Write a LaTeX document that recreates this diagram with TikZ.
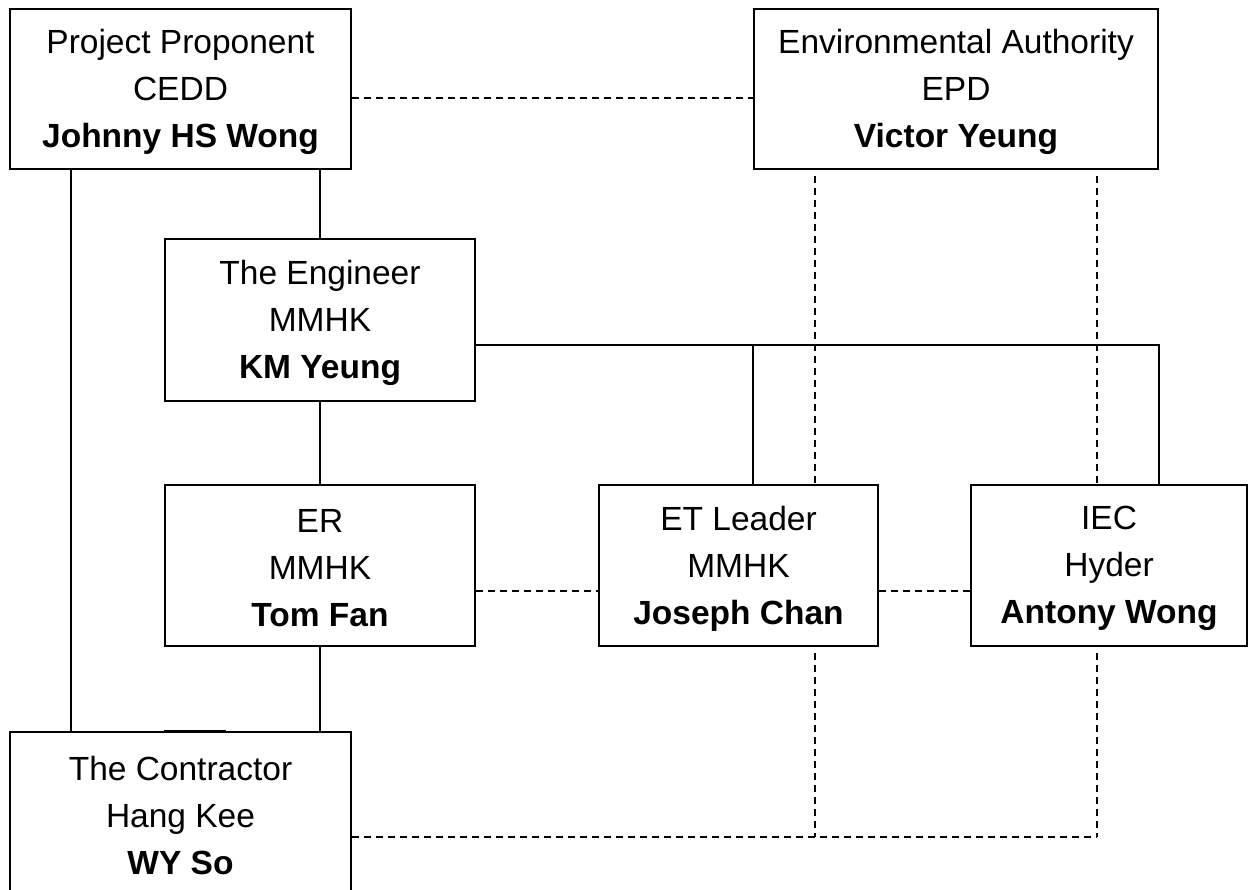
\documentclass[tikz,border=0pt]{standalone}
\usepackage{fontspec}
\setmainfont{Liberation Sans}
\usetikzlibrary{calc}
\tikzset{
  box/.style={draw=black, line width=1.6pt, fill=white, rectangle, inner sep=0pt},
  txt/.style={align=center, inner sep=0pt, font=\fontsize{33.5}{47}\selectfont},
  conn/.style={draw=black, line width=1.8pt},
  dconn/.style={draw=black, line width=1.8pt, dash pattern=on 7pt off 5pt},
}
\begin{document}
\begin{tikzpicture}[x=1pt,y=-1pt]
\useasboundingbox (0,0) rectangle (1249,890);
\clip (0,0) rectangle (1249,890);
% boxes
\node[box, minimum width=341pt, minimum height=160pt] (pp) at (180.5,89) {};
\node[box, minimum width=404pt, minimum height=160pt] (ea) at (956,89) {};
\node[box, minimum width=310pt, minimum height=162pt] (eng) at (320,320) {};
\node[box, minimum width=310pt, minimum height=161pt] (er) at (320,565.5) {};
\node[box, minimum width=279pt, minimum height=161pt] (et) at (738.5,565.5) {};
\node[box, minimum width=276pt, minimum height=161pt] (iec) at (1109,565.5) {};
\node[box, minimum width=341pt, minimum height=161pt] (con) at (180.5,812.5) {};
% texts
\node[txt] (ppt) at ([yshift=-3pt]pp.center) {Project Proponent\\CEDD\\\textbf{Johnny HS Wong}};
\node[txt] (eat) at ([yshift=-3pt]ea.center) {Environmental Authority\\EPD\\\textbf{Victor Yeung}};
\node[txt] (engt) at ([yshift=-3pt]eng.center) {The Engineer\\MMHK\\\textbf{KM Yeung}};
\node[txt] (ert) at ([yshift=-3pt]er.center) {ER\\MMHK\\\textbf{Tom Fan}};
\node[txt] (ett) at ([yshift=-3pt]et.center) {ET Leader\\MMHK\\\textbf{Joseph Chan}};
\node[txt] (iect) at ([yshift=-3pt]iec.center) {IEC\\Hyder\\\textbf{Antony Wong}};
\node[txt] (cont) at ([yshift=-3pt]con.center) {The Contractor\\Hang Kee\\\textbf{WY So}};
% helper coordinates
\coordinate (j) at ([yshift=-25pt]eng.east);
\coordinate (ppL) at ([xshift=62pt]pp.south west);
\coordinate (eaL) at ([xshift=62pt]ea.south west);
\coordinate (eaR) at ([xshift=-62pt]ea.south east);
\coordinate (cbot) at ([yshift=-24.5pt]con.east);
% solid connectors
\draw[conn] (ppL) -- (ppL |- con.north);
\draw[conn] (eng.north |- pp.south) -- (eng.north);
\draw[conn] (eng.south) -- (er.north);
\draw[conn] (er.south) -- (er.south |- con.north);
\draw[conn] (j) -| (ea.east |- iec.north);
\draw[conn] (j -| ea.west) -- (ea.west |- et.north);
\draw[line width=2.8pt] ([xshift=155pt]con.north west) -- ([xshift=217pt]con.north west);
% dashed connectors
\draw[dconn] ([yshift=-9pt]pp.east) -- ([yshift=-9pt]pp.east -| ea.west);
\draw[dconn] ([yshift=-6pt]eaL) -- (eaL |- et.north);
\draw[dconn] ([yshift=-6pt]eaR) -- (eaR |- iec.north);
\draw[dconn] ([yshift=-25.5pt]er.east) -- ([yshift=-25.5pt]er.east -| et.west);
\draw[dconn] ([yshift=-25.5pt]et.east) -- ([yshift=-25.5pt]et.east -| iec.west);
\draw[dconn] ([yshift=-6pt]eaL |- et.south) -- (eaL |- cbot);
\draw[dconn] (cbot) -- (eaR |- cbot);
\draw[dconn] ([yshift=-6pt]eaR |- iec.south) -- (eaR |- cbot);
\end{tikzpicture}
\end{document}
